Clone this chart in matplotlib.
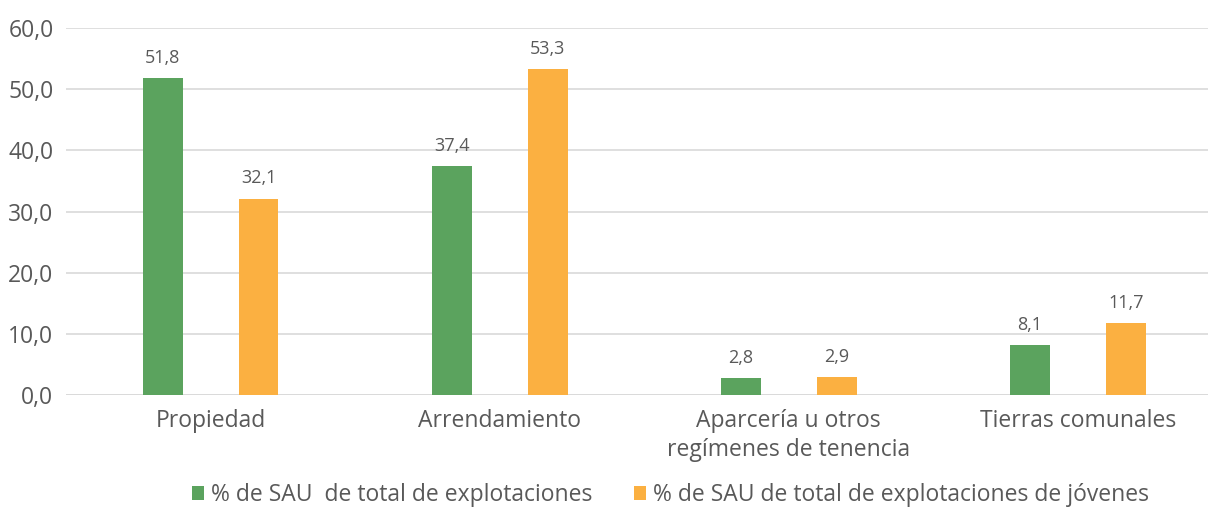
import numpy as np
import matplotlib.pyplot as plt

categories = ["Propiedad", "Arrendamiento", "Aparcería u otros\nregímenes de tenencia", "Tierras comunales"]
total = [51.8, 37.4, 2.8, 8.1]
jovenes = [32.1, 53.3, 2.9, 11.7]
series_names = ["% de SAU  de total de explotaciones", "% de SAU de total de explotaciones de jóvenes"]

green = "#5BA35E"
orange = "#FBB041"
grey = "#595959"

plt.rcParams['font.family'] = ['Open Sans', 'DejaVu Sans']

fig = plt.figure(figsize=(12.08, 5.09), dpi=100)
ax = fig.add_axes([66 / 1208, 1 - 395 / 509, 1142 / 1208, 367 / 509])

x = np.arange(len(categories))
w = 0.138
off = 0.166
b1 = ax.bar(x - off, total, w, color=green, label=series_names[0], zorder=3)
b2 = ax.bar(x + off, jovenes, w, color=orange, label=series_names[1], zorder=3)

for bars in (b1, b2):
    for b in bars:
        ax.text(b.get_x() + b.get_width() / 2, b.get_height() + 3.3,
                f"{b.get_height():.1f}".replace(".", ","),
                ha="center", va="center", fontsize=13, color=grey)

ax.set_xlim(-0.5, 3.45)
ax.set_ylim(0, 60)
ax.set_yticks(np.arange(0, 61, 10))
ax.set_yticklabels([f"{v:.1f}".replace(".", ",") for v in np.arange(0, 61, 10)])
ax.set_xticks(x)
ax.set_xticklabels(categories, linespacing=1.3)
ax.tick_params(axis="both", length=0, labelsize=16.5, colors=grey)
ax.tick_params(axis="x", pad=10)
ax.tick_params(axis="y", pad=9)
ax.grid(axis="y", color="#D9D9D9", linewidth=1.2, zorder=0)
for s in ax.spines.values():
    s.set_visible(False)
ax.axhline(0, color="#D9D9D9", linewidth=1.2, zorder=1)

fig.legend(loc="center", bbox_to_anchor=(0.555, 1 - 495 / 509), ncol=2, frameon=False,
           fontsize=16.5, labelcolor=grey, handlelength=0.55, handleheight=0.55,
           handletextpad=0.3, columnspacing=1.8)

fig.savefig("out.png", dpi=100)
